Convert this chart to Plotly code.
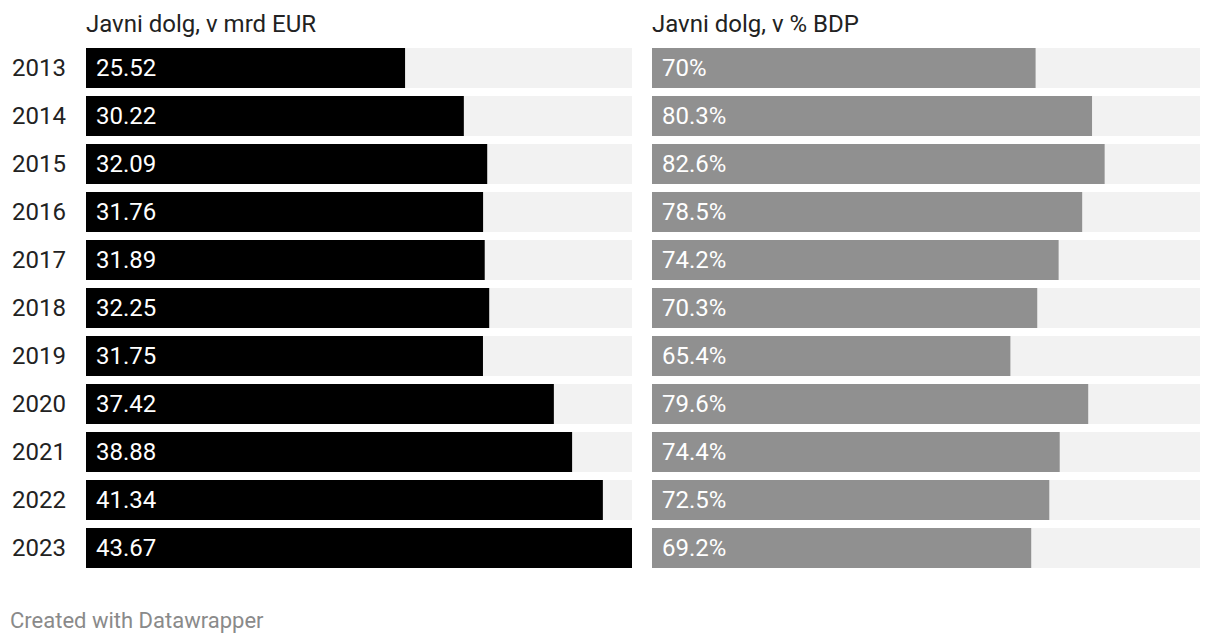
import plotly.graph_objects as go

years = ["2013", "2014", "2015", "2016", "2017", "2018", "2019", "2020", "2021", "2022", "2023"]
debt_eur = [25.52, 30.22, 32.09, 31.76, 31.89, 32.25, 31.75, 37.42, 38.88, 41.34, 43.67]
debt_pct = [70, 80.3, 82.6, 78.5, 74.2, 70.3, 65.4, 79.6, 74.4, 72.5, 69.2]
left_title = "Javni dolg, v mrd EUR"
right_title = "Javni dolg, v % BDP"
footer = "Created with Datawrapper"

W, H = 1220, 644
FONT = "Roboto"
FS = 24
pos = list(range(len(years)))

fig = go.Figure()
left_max = max(debt_eur)
right_max = 100

fig.add_trace(go.Bar(y=pos, x=[left_max] * len(years), orientation="h", marker=dict(color="#f2f2f2", line_width=0),
                     xaxis="x", yaxis="y", hoverinfo="skip", showlegend=False))
fig.add_trace(go.Bar(y=pos, x=debt_eur, orientation="h", marker=dict(color="#000000", line_width=0),
                     xaxis="x", yaxis="y", showlegend=False, hovertext=years))
fig.add_trace(go.Bar(y=pos, x=[right_max] * len(years), orientation="h", marker=dict(color="#f2f2f2", line_width=0),
                     xaxis="x2", yaxis="y2", hoverinfo="skip", showlegend=False))
fig.add_trace(go.Bar(y=pos, x=debt_pct, orientation="h", marker=dict(color="#909090", line_width=0),
                     xaxis="x2", yaxis="y2", showlegend=False, hovertext=years))

annotations = []
for p, v in zip(pos, debt_eur):
    annotations.append(dict(x=0, y=p, xref="x", yref="y", text=f"{v:.2f}", showarrow=False,
                            xanchor="left", xshift=8, font=dict(family=FONT, size=FS, color="#ffffff")))
for p, v in zip(pos, debt_pct):
    annotations.append(dict(x=0, y=p, xref="x2", yref="y2", text=f"{v:g}%", showarrow=False,
                            xanchor="left", xshift=8, font=dict(family=FONT, size=FS, color="#ffffff")))
for p, yr in zip(pos, years):
    annotations.append(dict(x=10 / W, y=p, xref="paper", yref="y", text=yr, showarrow=False,
                            xanchor="left", font=dict(family=FONT, size=FS, color="#222222")))
annotations.append(dict(x=84 / W, y=1 - 24 / H, xref="paper", yref="paper", text=left_title,
                        showarrow=False, xanchor="left", yanchor="middle",
                        font=dict(family=FONT, size=FS, color="#222222")))
annotations.append(dict(x=650 / W, y=1 - 24 / H, xref="paper", yref="paper", text=right_title,
                        showarrow=False, xanchor="left", yanchor="middle",
                        font=dict(family=FONT, size=FS, color="#222222")))
annotations.append(dict(x=8 / W, y=1 - 620 / H, xref="paper", yref="paper", text=footer,
                        showarrow=False, xanchor="left", yanchor="middle",
                        font=dict(family=FONT, size=22, color="#8a8a8a")))

ydom = [1 - 572 / H, 1 - 44 / H]
yrange = [len(years) - 0.5, -0.5]
fig.update_layout(
    template="none",
    width=W, height=H, margin=dict(l=0, r=0, t=0, b=0, pad=0),
    paper_bgcolor="#ffffff", plot_bgcolor="#ffffff",
    barmode="overlay", bargap=8 / 48,
    xaxis=dict(domain=[86 / W, 632 / W], range=[0, left_max], visible=False, fixedrange=True),
    xaxis2=dict(domain=[652 / W, 1200 / W], range=[0, right_max], visible=False, fixedrange=True),
    yaxis=dict(domain=ydom, range=yrange, visible=False, fixedrange=True),
    yaxis2=dict(domain=ydom, range=yrange, visible=False, anchor="x2", fixedrange=True),
    annotations=annotations,
    font=dict(family=FONT),
    showlegend=False,
)

fig.write_html("out.html", config={"displayModeBar": False},
               post_script="document.body.style.margin='0';")
